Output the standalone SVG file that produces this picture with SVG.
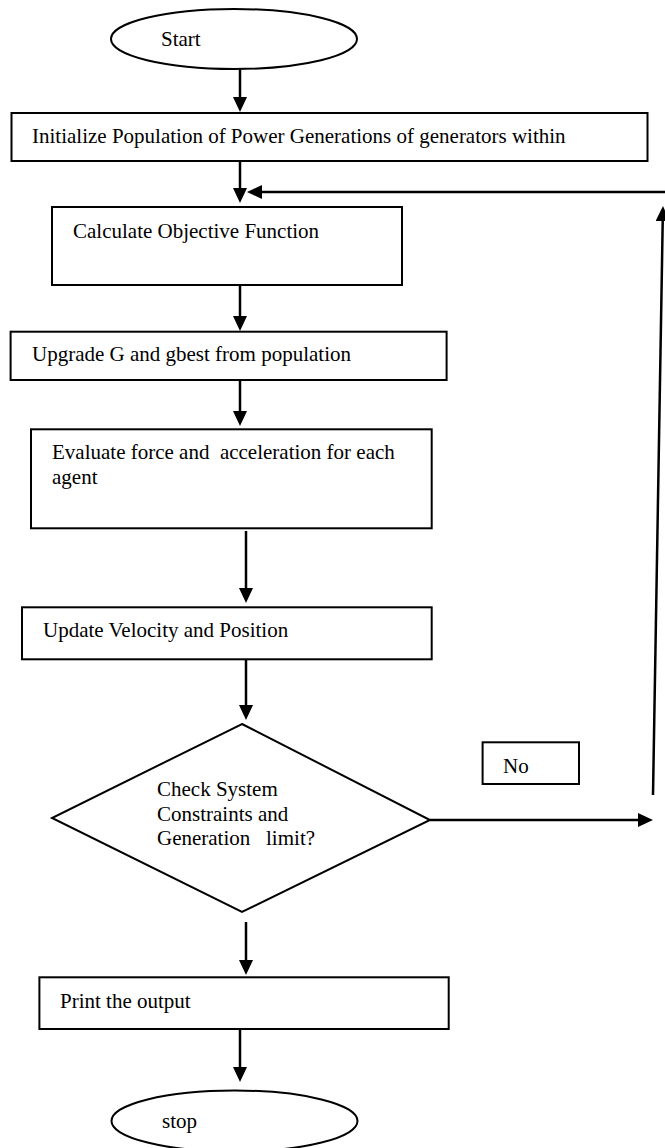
<svg xmlns="http://www.w3.org/2000/svg" width="665" height="1148" viewBox="0 0 665 1148">
<style>
.shape{fill:#fff;stroke:#000;stroke-width:2}
.txt{font-family:"Liberation Serif","Times New Roman",serif;font-size:21px;fill:#000}
.pre{white-space:pre}
.conn{stroke:#000;stroke-width:2.5;fill:none}
</style>
<defs>
<marker id="ah" viewBox="0 0 15 14" refX="5" refY="7" markerWidth="15" markerHeight="14" markerUnits="userSpaceOnUse" orient="auto">
<path d="M0,0 L15,7 L0,14 z" fill="#000"/>
</marker>
</defs>
<rect width="665" height="1148" fill="#fff"/>
<g id="connectors">
<line class="conn" x1="240" y1="69" x2="240" y2="102" marker-end="url(#ah)"/>
<line class="conn" x1="240" y1="161" x2="240" y2="193" marker-end="url(#ah)"/>
<line class="conn" x1="667" y1="192" x2="257" y2="192" marker-end="url(#ah)"/>
<line class="conn" x1="653" y1="795" x2="662.8" y2="216" marker-end="url(#ah)"/>
<line class="conn" x1="240" y1="286" x2="240" y2="321" marker-end="url(#ah)"/>
<line class="conn" x1="240" y1="381" x2="240" y2="416" marker-end="url(#ah)"/>
<line class="conn" x1="246" y1="531" x2="246" y2="593" marker-end="url(#ah)"/>
<line class="conn" x1="246" y1="659" x2="246" y2="710" marker-end="url(#ah)"/>
<line class="conn" x1="430" y1="820" x2="643" y2="820" marker-end="url(#ah)"/>
<line class="conn" x1="246" y1="922" x2="246" y2="965" marker-end="url(#ah)"/>
<line class="conn" x1="240" y1="1028" x2="240" y2="1072" marker-end="url(#ah)"/>
</g>
<g id="start">
<ellipse class="shape" cx="234" cy="39" rx="123" ry="30"/>
<text class="txt" x="161" y="46">Start</text>
</g>
<g id="init">
<rect class="shape" x="11.5" y="113" width="636" height="48"/>
<text class="txt" x="32" y="143">Initialize Population of Power Generations of generators within</text>
</g>
<g id="calc">
<rect class="shape" x="52" y="207" width="350" height="78"/>
<text class="txt" x="73" y="238">Calculate Objective Function</text>
</g>
<g id="upgrade">
<rect class="shape" x="10.6" y="331.7" width="436" height="48.3"/>
<text class="txt" x="32" y="361">Upgrade G and gbest from population</text>
</g>
<g id="evaluate">
<rect class="shape" x="31" y="429.3" width="400.7" height="99"/>
<text class="txt pre" x="52" y="459" xml:space="preserve">Evaluate force and  acceleration for each</text>
<text class="txt" x="52" y="484">agent</text>
</g>
<g id="update">
<rect class="shape" x="22" y="607.3" width="409.7" height="52"/>
<text class="txt" x="43" y="637">Update Velocity and Position</text>
</g>
<g id="check">
<polygon class="shape" points="242,724 430,820 242,912 52,818"/>
<text class="txt" x="157" y="796">Check System</text>
<text class="txt" x="157" y="821">Constraints and</text>
<text class="txt pre" x="157" y="845" xml:space="preserve">Generation   limit?</text>
</g>
<g id="no">
<rect class="shape" x="482.6" y="742.3" width="96.4" height="41.7"/>
<text class="txt" x="503" y="773">No</text>
</g>
<g id="print">
<rect class="shape" x="39.4" y="977.3" width="409.3" height="51.7"/>
<text class="txt" x="60" y="1008">Print the output</text>
</g>
<g id="stop">
<ellipse class="shape" cx="234.5" cy="1121" rx="123" ry="30.5"/>
<text class="txt" x="162" y="1128">stop</text>
</g>
</svg>
